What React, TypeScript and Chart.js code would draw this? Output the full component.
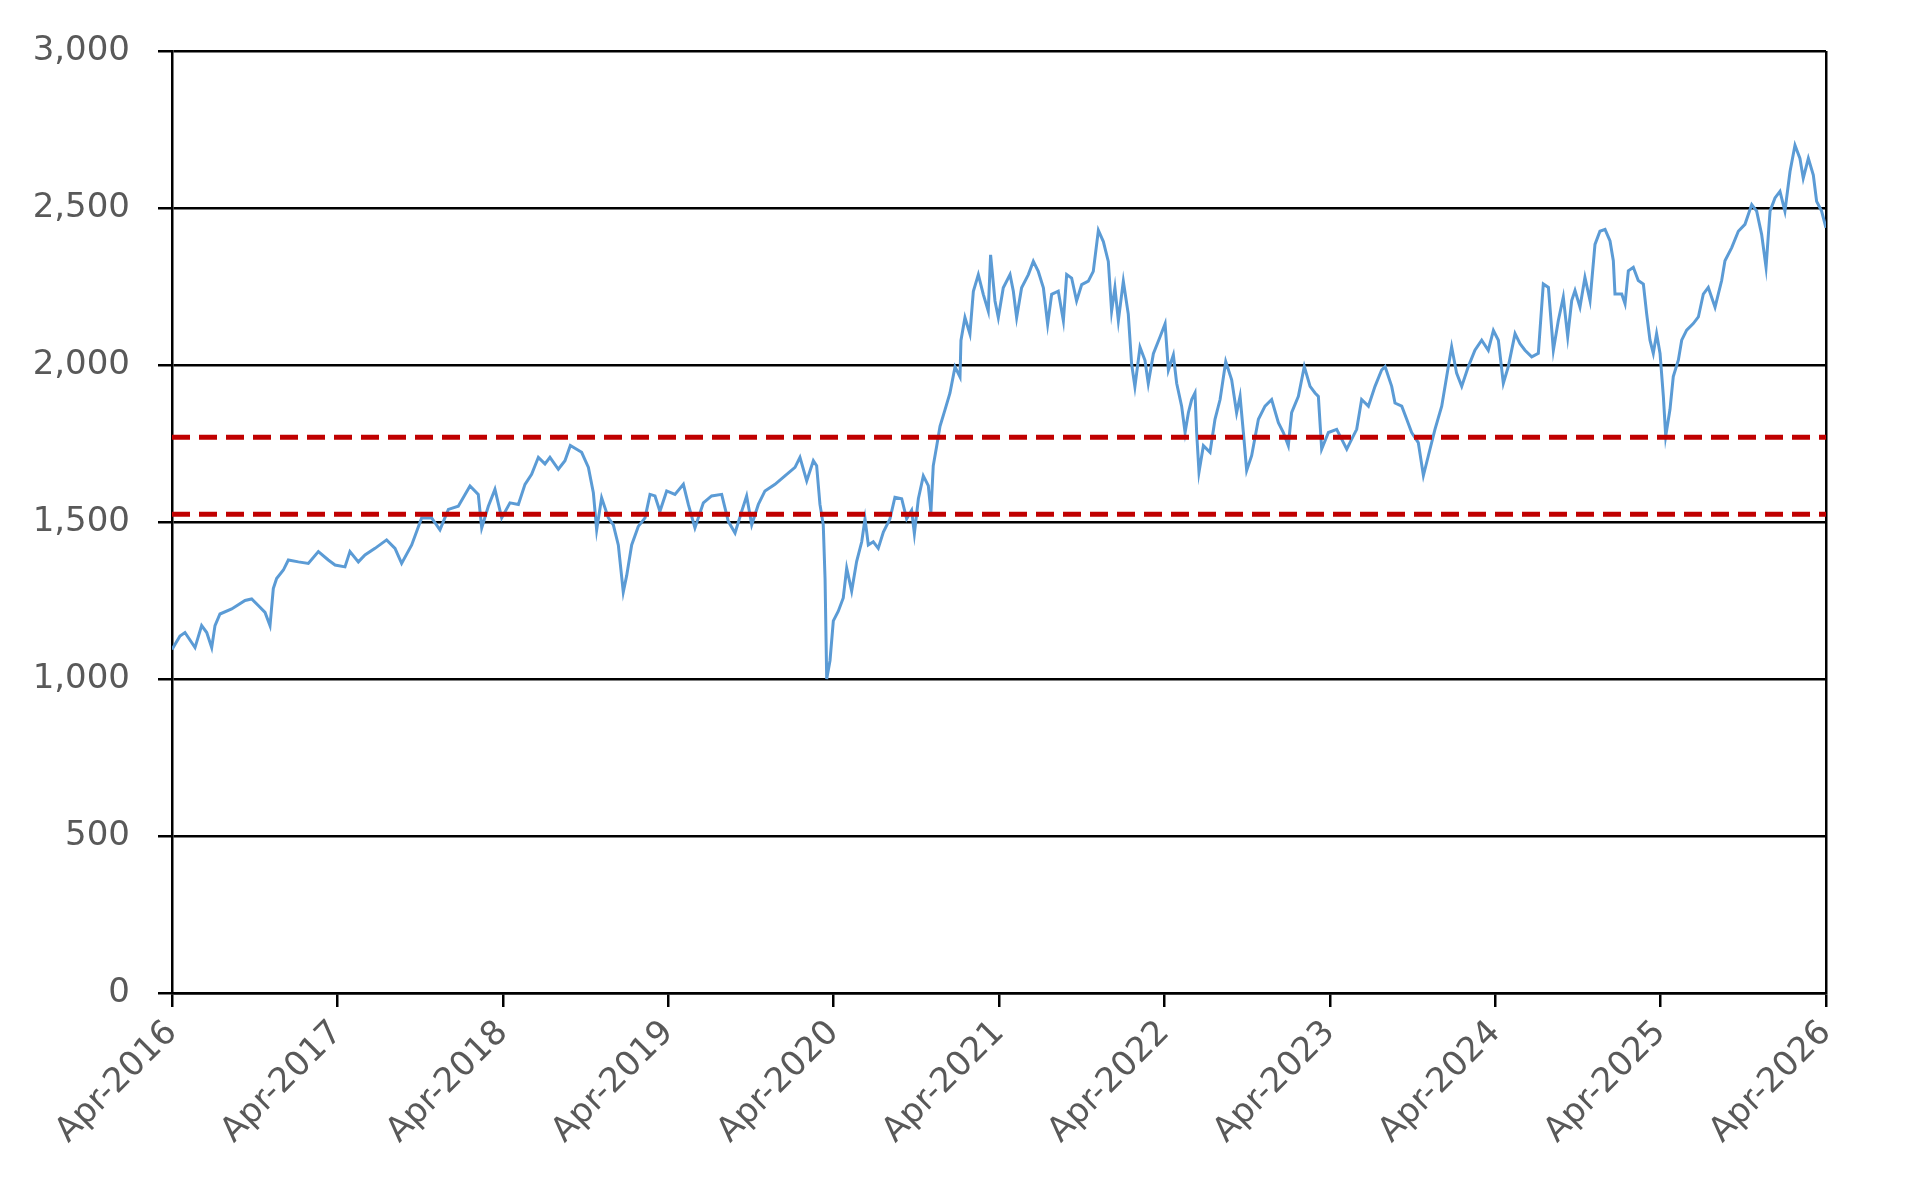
import { useEffect, useRef } from 'react'
import { Chart, registerables } from 'chart.js'

Chart.register(...registerables)

// x positions are months after Apr-2016
const MONTHS = [
  0.0, 0.58, 0.94, 1.67, 2.15, 2.52, 2.88, 3.12, 3.48, 4.33, 5.3, 5.78, 6.26, 6.75, 7.11, 7.35,
  7.59, 8.08, 8.44, 9.17, 9.89, 10.62, 11.34, 11.83, 12.55, 12.91, 13.52, 14.0, 14.73, 15.57,
  16.18, 16.66, 17.39, 18.11, 18.84, 19.44, 20.05, 20.77, 21.62, 22.22, 22.47, 22.95, 23.43,
  23.92, 24.52, 25.13, 25.61, 26.09, 26.58, 27.06, 27.42, 28.03, 28.51, 28.9, 29.72, 30.21,
  30.57, 30.81, 31.17, 31.66, 32.02, 32.38, 32.74, 32.99, 33.35, 33.83, 34.32, 34.68, 35.04,
  35.4, 35.89, 36.49, 37.1, 37.46, 37.94, 38.55, 39.15, 39.88, 40.36, 40.85, 41.33, 41.69,
  42.06, 42.54, 43.02, 43.75, 44.47, 45.2, 45.56, 46.05, 46.53, 46.77, 47.01, 47.25, 47.38,
  47.5, 47.74, 47.98, 48.34, 48.7, 48.95, 49.31, 49.67, 50.04, 50.28, 50.52, 50.88, 51.24,
  51.61, 52.09, 52.45, 52.94, 53.3, 53.66, 53.86, 54.15, 54.51, 54.87, 55.06, 55.23, 55.48,
  55.72, 56.08, 56.44, 56.81, 57.17, 57.24, 57.53, 57.89, 58.14, 58.5, 58.86, 59.22, 59.39,
  59.71, 59.95, 60.31, 60.8, 61.04, 61.28, 61.64, 62.13, 62.49, 62.85, 63.22, 63.53, 63.82,
  64.3, 64.67, 64.91, 65.27, 65.63, 66.0, 66.48, 66.84, 67.21, 67.57, 67.93, 68.17, 68.41,
  68.66, 69.02, 69.38, 69.62, 69.86, 70.23, 70.59, 70.83, 71.2, 71.68, 72.05, 72.29, 72.65,
  72.89, 73.25, 73.5, 73.74, 73.98, 74.22, 74.34, 74.51, 74.83, 75.31, 75.67, 76.04, 76.45,
  76.88, 77.24, 77.49, 77.73, 77.97, 78.33, 78.82, 79.3, 79.78, 80.27, 80.63, 80.99, 81.23,
  81.72, 82.15, 82.57, 82.93, 83.17, 83.41, 83.9, 84.5, 84.86, 85.23, 85.59, 85.95, 86.31,
  86.8, 87.28, 87.76, 88.01, 88.49, 88.73, 89.22, 89.58, 89.94, 90.42, 90.79, 91.15, 91.63,
  92.12, 92.48, 92.84, 93.2, 93.57, 94.05, 94.53, 95.02, 95.5, 95.87, 96.23, 96.59, 96.95,
  97.44, 97.8, 98.16, 98.65, 99.13, 99.49, 99.86, 100.22, 100.58, 100.94, 101.26, 101.55,
  101.79, 102.15, 102.51, 102.88, 103.24, 103.6, 103.97, 104.33, 104.57, 104.69, 105.18,
  105.42, 105.66, 106.02, 106.38, 106.75, 106.99, 107.23, 107.47, 107.71, 107.96, 108.2,
  108.37, 108.68, 108.92, 109.29, 109.53, 109.89, 110.37, 110.74, 111.1, 111.46, 111.95,
  112.43, 112.67, 113.16, 113.64, 114.12, 114.61, 114.97, 115.33, 115.65, 115.94, 116.3,
  116.66, 117.02, 117.39, 117.75, 118.11, 118.35, 118.72, 119.08, 119.32, 119.68, 120.0,
]

const INDEX_VALUES = [
  1094, 1137, 1148, 1100, 1170, 1148, 1100, 1170, 1207, 1223, 1250, 1255, 1234, 1212, 1170, 1288,
  1320, 1347, 1379, 1373, 1368, 1406, 1379, 1363, 1357, 1406, 1373, 1395, 1416, 1443,
  1416, 1368, 1427, 1513, 1513, 1475, 1540, 1550, 1615, 1588, 1481, 1550, 1604,
  1513, 1561, 1556, 1620, 1652, 1706, 1685, 1706, 1668, 1695, 1744, 1722, 1674,
  1593, 1475, 1577, 1513, 1491, 1427, 1277, 1330, 1427, 1486, 1513, 1588, 1583,
  1534, 1599, 1588, 1620, 1556, 1481, 1561, 1583, 1588, 1502, 1465, 1534, 1583,
  1491, 1556, 1599, 1620, 1647, 1674, 1706, 1631, 1695, 1679, 1556, 1491, 1320,
  1000, 1059, 1185, 1216, 1258, 1353, 1280, 1374, 1437, 1510, 1427, 1437, 1416,
  1468, 1510, 1579, 1574, 1510, 1537, 1463, 1574, 1647, 1616, 1532, 1679, 1742,
  1805, 1857, 1910, 1994, 1962, 2078, 2151, 2099, 2235, 2288, 2225, 2172, 2351,
  2204, 2151, 2246, 2288, 2235, 2151, 2246, 2288, 2330, 2298, 2246, 2130, 2225,
  2235, 2141, 2288, 2277, 2204, 2256, 2267, 2298, 2429, 2393, 2330, 2172, 2246,
  2141, 2267, 2162, 2004, 1931, 2057, 2015, 1941, 2036, 2089, 2131, 1984, 2032,
  1942, 1869, 1785, 1848, 1890, 1911, 1785, 1659, 1743, 1722, 1827, 1890, 2011,
  1953, 1848, 1900, 1785, 1664, 1711, 1827, 1869, 1890, 1816, 1785, 1743, 1848,
  1900, 1995, 1932, 1911, 1900, 1732, 1785, 1795, 1764, 1732, 1764, 1795, 1890,
  1869, 1932, 1984, 1995, 1932, 1879, 1869, 1827, 1785, 1753, 1648, 1711, 1795,
  1869, 1963, 2058, 1974, 1932, 1995, 2047, 2079, 2047, 2110, 2079, 1942, 1995,
  2100, 2068, 2047, 2026, 2037, 2258, 2247, 2047, 2142, 2216, 2090, 2205,
  2237, 2184, 2279, 2205, 2384, 2426, 2432, 2395, 2332, 2226, 2226,
  2195, 2300, 2311, 2269, 2258, 2163, 2079, 2037, 2100, 2037, 1900,
  1774, 1858, 1963, 2016, 2079, 2111, 2132, 2153, 2226, 2247, 2184,
  2269, 2332, 2374, 2426, 2448, 2511, 2490, 2416, 2311, 2490, 2532,
  2553, 2490, 2616, 2700, 2658, 2595, 2658, 2605, 2521, 2490, 2437,
]

const UPPER_LEVEL = 1770
const LOWER_LEVEL = 1525

const YEAR_LABELS = [
  'Apr-2016', 'Apr-2017', 'Apr-2018', 'Apr-2019', 'Apr-2020', 'Apr-2021',
  'Apr-2022', 'Apr-2023', 'Apr-2024', 'Apr-2025', 'Apr-2026',
]

const FONT = { family: '"DejaVu Sans", Verdana, sans-serif', size: 34 }

export default function App() {
  const canvasRef = useRef<HTMLCanvasElement>(null)
  const chartRef = useRef<Chart | null>(null)

  useEffect(() => {
    if (!canvasRef.current) return
    if (chartRef.current) chartRef.current.destroy()

    const lastMonth = (YEAR_LABELS.length - 1) * 12
    const series = MONTHS.map((m, i) => ({ x: m, y: INDEX_VALUES[i] }))
    const level = (v: number) => [{ x: 0, y: v }, { x: lastMonth, y: v }]

    chartRef.current = new Chart(canvasRef.current, {
      type: 'line',
      data: {
        datasets: [
          {
            data: level(UPPER_LEVEL),
            borderColor: '#c00000',
            borderWidth: 5,
            borderDash: [18, 9],
            pointRadius: 0,
          },
          {
            data: level(LOWER_LEVEL),
            borderColor: '#c00000',
            borderWidth: 5,
            borderDash: [18, 9],
            pointRadius: 0,
          },
          {
            data: series,
            borderColor: '#5b9bd5',
            borderWidth: 3,
            pointRadius: 0,
            tension: 0,
          },
        ],
      },
      options: {
        animation: false,
        responsive: true,
        maintainAspectRatio: false,
        layout: { padding: { top: 51, right: 92, left: 0, bottom: 0 } },
        plugins: { legend: { display: false }, tooltip: { enabled: false } },
        scales: {
          x: {
            type: 'linear',
            min: 0,
            max: lastMonth,
            afterFit: (scale) => { scale.height = 205 },
            afterBuildTicks: (scale) => {
              scale.ticks = YEAR_LABELS.map((_, i) => ({ value: i * 12 }))
            },
            ticks: {
              autoSkip: false,
              maxRotation: 45,
              minRotation: 45,
              padding: 6,
              color: '#595959',
              font: FONT,
              callback: (value) => YEAR_LABELS[Math.round(Number(value) / 12)],
            },
            grid: {
              drawOnChartArea: true,
              color: (ctx) => (ctx.tick && ctx.tick.value === lastMonth ? '#000' : 'rgba(0,0,0,0)'),
              tickColor: '#000',
              tickLength: 14,
              lineWidth: 2.5,
            },
            border: { display: true, color: '#000', width: 2.5 },
          },
          y: {
            min: 0,
            max: 3000,
            afterFit: (scale) => { scale.width = 172 },
            ticks: {
              stepSize: 500,
              padding: 28,
              color: '#595959',
              font: FONT,
              callback: (value) => Number(value).toLocaleString('en-US'),
            },
            grid: {
              color: '#000',
              lineWidth: 2.5,
              tickLength: 14,
              tickColor: '#000',
            },
            border: { display: true, color: '#000', width: 2.5 },
          },
        },
      },
    })
    return () => { chartRef.current?.destroy() }
  }, [])

  return (
    <div style={{ position: 'fixed', left: 0, top: 0, width: 1918, height: 1198, background: '#fff' }}>
      <canvas ref={canvasRef} />
    </div>
  )
}
